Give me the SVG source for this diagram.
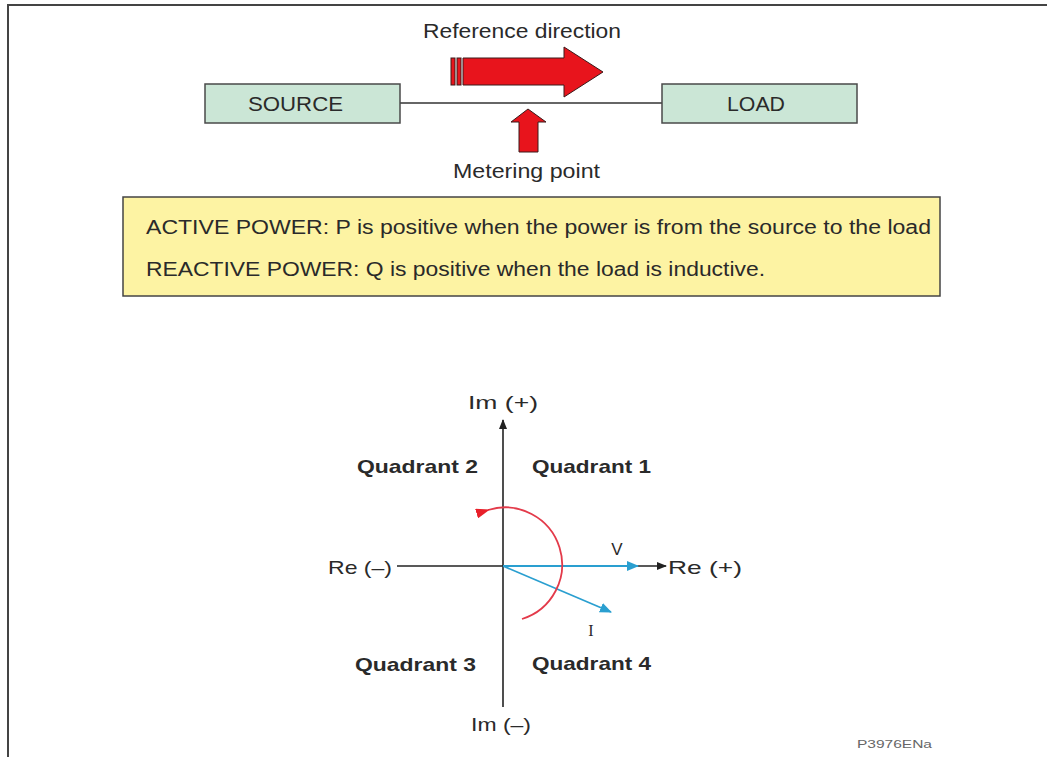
<svg xmlns="http://www.w3.org/2000/svg" width="1047" height="757" viewBox="0 0 1047 757">
<defs>
<style>
.t{font-family:"Liberation Sans",Arial,sans-serif;fill:#2a2a2a}
.box{fill:#cbe6d6;stroke:#4a4a4a;stroke-width:1.5}
.ax{stroke:#222;stroke-width:1.6;fill:none}
.blue{stroke:#2a9fd0;stroke-width:1.8;fill:none}
.q{font-family:"Liberation Sans",Arial,sans-serif;font-weight:bold;font-size:19px;fill:#2a2a2a}
</style>
<marker id="ak" markerWidth="10" markerHeight="8" refX="9" refY="4" orient="auto" markerUnits="userSpaceOnUse"><path d="M0,0 L10,4 L0,8 Z" fill="#222"/></marker>
<marker id="ab" markerWidth="12" markerHeight="10" refX="11" refY="5" orient="auto" markerUnits="userSpaceOnUse"><path d="M0,0 L12,5 L0,10 Z" fill="#2a9fd0"/></marker>
<marker id="ar" markerWidth="14" markerHeight="10" refX="2" refY="5" orient="auto" markerUnits="userSpaceOnUse"><path d="M14,0 L0,5 L14,10 Z" fill="#e8202a"/></marker>
</defs>
<rect width="1047" height="757" fill="#fff"/>
<g id="frame"><path d="M8,757 V5 H1047" fill="none" stroke="#444" stroke-width="2"/></g>

<g id="connectors">
<line x1="400" y1="103" x2="662" y2="103" stroke="#333" stroke-width="1.6"/>
<line class="ax" x1="503" y1="707" x2="503" y2="420" marker-end="url(#ak)"/>
<line class="ax" x1="397" y1="566" x2="666" y2="566" marker-end="url(#ak)"/>
<line class="blue" x1="503" y1="566" x2="638" y2="566" marker-end="url(#ab)"/>
<line class="blue" x1="503" y1="566" x2="611" y2="612" marker-end="url(#ab)"/>
<path d="M522,619 A57,57 0 1 0 488,510" fill="none" stroke="#e33a4a" stroke-width="1.8" marker-end="url(#ar)"/>
</g>

<g id="refdir">
<text class="t" x="423" y="38" font-size="20" textLength="198" lengthAdjust="spacingAndGlyphs">Reference direction</text>
<rect x="451" y="58" width="4" height="27" fill="#e8141c" stroke="#3a1a1a" stroke-width="1"/>
<rect x="457" y="58" width="4" height="27" fill="#e8141c" stroke="#3a1a1a" stroke-width="1"/>
<path d="M463,58 H564 V47 L603,72 L564,97 V85 H463 Z" fill="#e8141c" stroke="#3a1a1a" stroke-width="1"/>
</g>

<g id="source"><rect class="box" x="205" y="84" width="195" height="39"/><text class="t" x="248" y="111" font-size="20" textLength="95" lengthAdjust="spacingAndGlyphs">SOURCE</text></g>
<g id="load"><rect class="box" x="662" y="84" width="195" height="39"/><text class="t" x="727" y="111" font-size="20" textLength="58" lengthAdjust="spacingAndGlyphs">LOAD</text></g>

<g id="metering">
<path d="M519,152 V122 H511 L528,109 L546,122 H538 V152 Z" fill="#e8141c" stroke="#3a1a1a" stroke-width="1"/>
<text class="t" x="453" y="178" font-size="20" textLength="147" lengthAdjust="spacingAndGlyphs">Metering point</text>
</g>

<g id="note">
<rect x="123" y="197" width="817" height="99" fill="#fdf3a3" stroke="#444" stroke-width="1.5"/>
<text class="t" x="146" y="234" font-size="20" textLength="785" lengthAdjust="spacingAndGlyphs">ACTIVE POWER: P is positive when the power is from the source to the load</text>
<text class="t" x="146" y="276" font-size="20" textLength="619" lengthAdjust="spacingAndGlyphs">REACTIVE POWER: Q is positive when the load is inductive.</text>
</g>

<g id="labels">
<text class="t" x="468" y="409" font-size="19" textLength="70" lengthAdjust="spacingAndGlyphs">Im (+)</text>
<text class="t" x="471" y="731" font-size="19" textLength="60" lengthAdjust="spacingAndGlyphs">Im (–)</text>
<text class="t" x="328" y="574" font-size="19" textLength="64" lengthAdjust="spacingAndGlyphs">Re (–)</text>
<text class="t" x="668" y="574" font-size="19" textLength="74" lengthAdjust="spacingAndGlyphs">Re (+)</text>
<text class="t" x="617" y="555" font-size="17" text-anchor="middle">V</text>
<text x="591" y="636" font-size="16" text-anchor="middle" fill="#2a2a2a" style="font-family:'Liberation Serif',serif">I</text>
<text class="q" x="357" y="473" textLength="121" lengthAdjust="spacingAndGlyphs">Quadrant 2</text>
<text class="q" x="532" y="473" textLength="119" lengthAdjust="spacingAndGlyphs">Quadrant 1</text>
<text class="q" x="355" y="671" textLength="121" lengthAdjust="spacingAndGlyphs">Quadrant 3</text>
<text class="q" x="532" y="670" textLength="119" lengthAdjust="spacingAndGlyphs">Quadrant 4</text>
<text x="857" y="748" font-family="Liberation Sans, Arial, sans-serif" font-size="11" fill="#666" textLength="75" lengthAdjust="spacingAndGlyphs">P3976ENa</text>
</g>
</svg>
